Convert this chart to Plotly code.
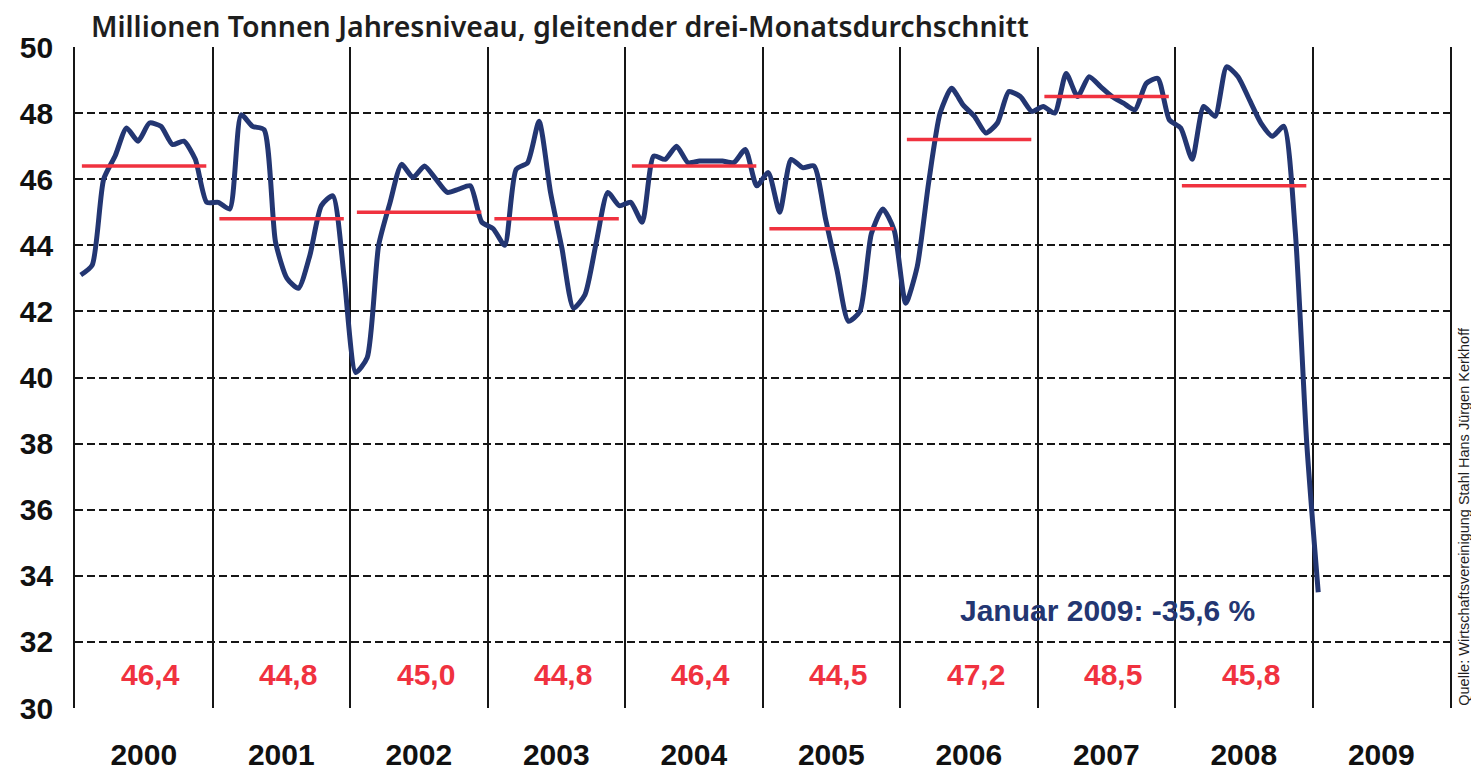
import plotly.graph_objects as go

# ---- data ----
years = list(range(2000, 2010))
year_labels = [str(y) for y in years]

v2000 = [43.1, 43.4, 46.0, 46.7, 47.55, 47.15, 47.7, 47.6, 47.05, 47.15, 46.6, 45.3]
v2001 = [45.3, 45.1, 47.95, 47.6, 47.5, 44.1, 43.0, 42.7, 43.7, 45.2, 45.5, 43.0]
v2002 = [40.15, 40.6, 44.0, 45.3, 46.45, 46.05, 46.4, 46.0, 45.6, 45.7, 45.8, 44.7]
v2003 = [44.5, 44.0, 46.3, 46.5, 47.75, 45.6, 43.9, 42.1, 42.5, 44.1, 45.6, 45.2]
v2004 = [45.3, 44.7, 46.7, 46.6, 47.0, 46.5, 46.55, 46.55, 46.55, 46.5, 46.9, 45.8]
v2005 = [46.2, 45.0, 46.6, 46.35, 46.4, 44.8, 43.25, 41.7, 42.0, 44.35, 45.1, 44.45]
v2006 = [42.25, 43.35, 45.9, 48.0, 48.75, 48.25, 47.9, 47.4, 47.7, 48.65, 48.5, 48.05]
v2007 = [48.2, 48.0, 49.2, 48.5, 49.1, 48.8, 48.5, 48.3, 48.1, 48.9, 49.05, 47.8]
v2008 = [47.55, 46.6, 48.2, 47.9, 49.4, 49.1, 48.4, 47.7, 47.3, 47.6, 44.4, 38.0]
v2009 = [33.5]

monthly = v2000 + v2001 + v2002 + v2003 + v2004 + v2005 + v2006 + v2007 + v2008 + v2009

avg_years = list(range(2000, 2009))
avg_values = [46.4, 44.8, 45.0, 44.8, 46.4, 44.5, 47.2, 48.5, 45.8]
avg_labels = ["46,4", "44,8", "45,0", "44,8", "46,4", "44,5", "47,2", "48,5", "45,8"]

title_text = "Millionen Tonnen Jahresniveau, gleitender drei-Monatsdurchschnitt"
note_text = "Januar 2009: -35,6 %"
source_text = "Quelle: Wirtschaftsvereinigung Stahl Hans Jürgen Kerkhoff"

# ---- styles ----
NAVY = "#233672"
RED = "#f0323f"
GRID = "#161616"
NUMFONT = "Liberation Sans, Arial, sans-serif"

x_month = [2000 + (i + 0.5) / 12 for i in range(len(monthly))]

fig = go.Figure()

fig.add_trace(go.Scatter(
    x=x_month, y=monthly, mode="lines",
    line=dict(color=NAVY, width=5, shape="spline", smoothing=0.6),
    hoverinfo="skip", showlegend=False,
))

rx, ry = [], []
for yr, v in zip(avg_years, avg_values):
    rx += [yr + 0.05, yr + 0.955, None]
    ry += [v, v, None]
fig.add_trace(go.Scatter(
    x=rx, y=ry, mode="lines",
    line=dict(color=RED, width=3.5),
    hoverinfo="skip", showlegend=False,
))

annotations = []
for yr, lab in zip(avg_years, avg_labels):
    annotations.append(dict(
        x=yr + 0.55, y=31.0, xref="x", yref="y", text=lab, showarrow=False,
        font=dict(family=NUMFONT, size=30, color=RED, weight="bold"),
        xanchor="center", yanchor="middle",
    ))

annotations.append(dict(
    x=0.0109, y=1.0318, xref="paper", yref="paper", text=title_text,
    showarrow=False, xanchor="left", yanchor="middle", borderpad=0,
    font=dict(family="Noto Sans, sans-serif", size=28.5, color="#1e1e1e", weight=600),
))
annotations.append(dict(
    x=2008.596, y=32.95, xref="x", yref="y", text=note_text, showarrow=False,
    xanchor="right", yanchor="middle",
    font=dict(family=NUMFONT, size=30, color=NAVY, weight="bold"),
))
annotations.append(dict(
    x=1.0105, y=0.29, xref="paper", yref="paper", text=source_text,
    showarrow=False, textangle=-90, xanchor="center", yanchor="middle",
    borderpad=0,
    font=dict(family=NUMFONT, size=14.5, color="#1e1e1e"),
))

# the page body adds an 8px offset, so the figure is sized to fit the window
fig.update_layout(
    width=1471, height=762,
    margin=dict(l=67, r=29, t=39, b=62, autoexpand=False),
    paper_bgcolor="white", plot_bgcolor="white",
    annotations=annotations,
    xaxis=dict(
        range=[2000, 2010],
        tickmode="array",
        tickvals=[y + 0.5 for y in years],
        ticktext=year_labels,
        showgrid=False, zeroline=False, ticks="",
        ticklabelstandoff=26, automargin=False,
        tickfont=dict(family=NUMFONT, size=30, color="#111", weight="bold"),
        minor=dict(tickmode="array", tickvals=years + [2010], showgrid=True,
                   gridcolor=GRID, gridwidth=1.6, ticks=""),
        fixedrange=True,
    ),
    yaxis=dict(
        range=[30, 50], dtick=2, tick0=30,
        showgrid=True, gridcolor=GRID, gridwidth=1.6, griddash="8px,4px",
        zeroline=False, ticks="",
        showline=True, mirror=True, linecolor=GRID, linewidth=1.6,
        ticklabelstandoff=14, automargin=False,
        tickfont=dict(family=NUMFONT, size=30, color="#111", weight="bold"),
        fixedrange=True,
    ),
)

fig.write_html("out.html")
